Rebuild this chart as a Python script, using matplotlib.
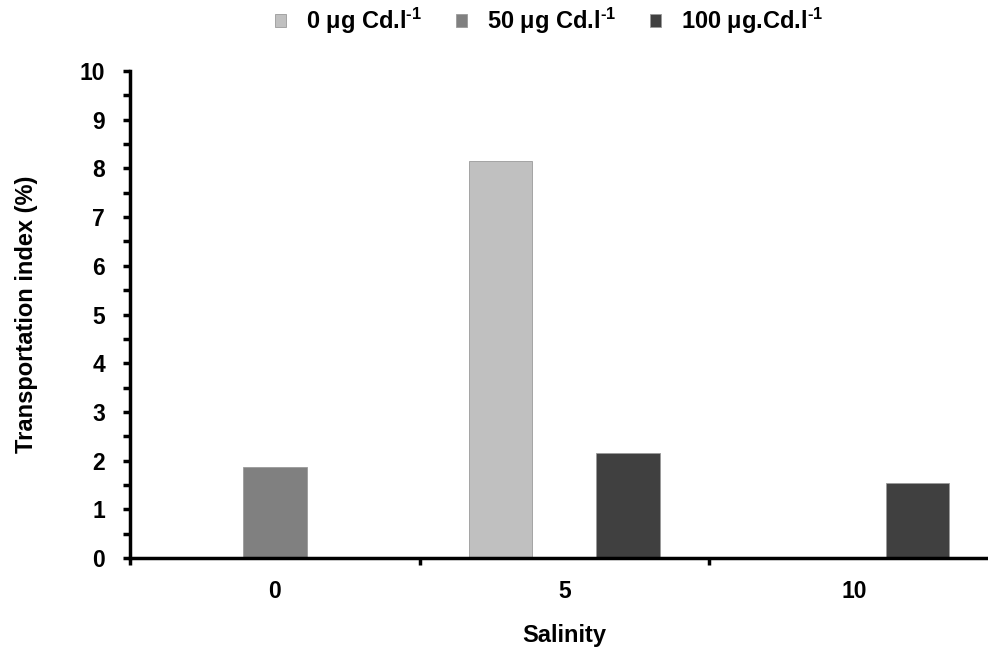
import matplotlib
matplotlib.use("Agg")
import matplotlib.pyplot as plt
import numpy as np

plt.rcParams['font.family'] = ['Liberation Sans', 'DejaVu Sans']
plt.rcParams['font.weight'] = 'bold'
plt.rcParams['mathtext.fontset'] = 'custom'
plt.rcParams['mathtext.rm'] = 'Liberation Sans:bold'
plt.rcParams['mathtext.bf'] = 'Liberation Sans:bold'
plt.rcParams['mathtext.default'] = 'bf'

categories = ["0", "5", "10"]
series_names = [r"0 μg Cd.l$^{\text{-}1}$", r"50 μg Cd.l$^{\text{-}1}$", r"100 μg.Cd.l$^{\text{-}1}$"]
cd0 = [0.0, 8.15, 0.0]
cd50 = [1.87, 0.0, 0.0]
cd100 = [0.0, 2.15, 1.55]
colors = ["#C0C0C0", "#808080", "#404040"]

fig = plt.figure(figsize=(9.88, 6.47), dpi=100)
ax = fig.add_axes([130/988, 1-558/647, (998.5-130)/988, (558-71)/647])

x = np.arange(len(categories))
w = 0.22
for i, (vals, name, c) in enumerate(zip([cd0, cd50, cd100], series_names, colors)):
    ax.bar(x + (i-1)*w, vals, width=w, color=c, edgecolor="#9a9a9a", linewidth=0.6, label=name)

ax.set_xlim(-0.5, 2.5)
ax.set_ylim(0, 10)
ax.set_yticks(np.arange(0, 11, 1))
ax.set_yticks(np.arange(0.5, 10, 1), minor=True)
ax.set_xticks([-0.5, 0.5, 1.5])
ax.set_xticklabels(["", "", ""])
ax.set_xticks(x, minor=True)
ax.set_xticklabels(categories, minor=True)
ax.tick_params(axis='x', which='minor', length=0, pad=16, labelsize=16.5)
ax.tick_params(axis='x', which='major', length=5, width=2.5, direction='out')
ax.tick_params(axis='y', which='both', length=5, width=2.5, direction='out', labelsize=16.5, pad=13)
for s in ['top', 'right']:
    ax.spines[s].set_visible(False)
for s in ['left', 'bottom']:
    ax.spines[s].set_linewidth(2.5)

ax.set_xlabel("Salinity", fontsize=17, fontweight='bold', labelpad=15)
ax.set_ylabel("Transportation index (%)", fontsize=17, fontweight='bold', labelpad=30)

handles, labels = ax.get_legend_handles_labels()
fig.legend(handles, labels, loc='upper center', bbox_to_anchor=(0.556, 1.024), ncol=3,
           frameon=False, fontsize=17, handlelength=0.45, handleheight=0.45,
           handletextpad=0.85, columnspacing=1.45)

fig.savefig("out.png", dpi=100)
